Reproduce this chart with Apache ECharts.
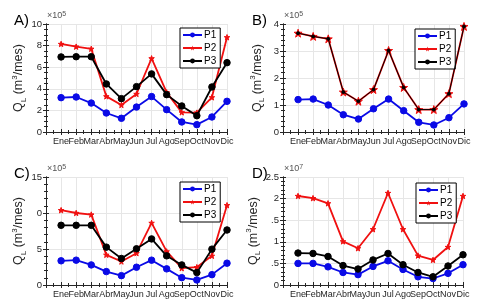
<!DOCTYPE html>
<html><head><meta charset="utf-8">
<script src="https://cdn.jsdelivr.net/npm/echarts@6/dist/echarts.min.js"></script>
<style>html,body{margin:0;padding:0;background:#fff}#c{width:484px;height:307px}</style>
</head><body><div id="c"></div>
<script>
const months = ['Ene','Feb','Mar','Abr','May','Jun','Jul','Ago','Sep','Oct','Nov','Dic'];
const seriesNames = ['P1','P2','P3'];
const panelLabels = ['A)','B)','C)','D)'];
const exponents = ['5','5','5','7'];
// Panel A (x10^5)
const A_P1 = [3.18,3.24,2.68,1.76,1.27,2.31,3.28,2.07,0.93,0.68,1.39,2.84];
const A_P2 = [8.15,7.9,7.7,3.3,2.5,3.52,6.82,3.67,1.82,1.79,3.21,8.77];
const A_P3 = [6.95,6.97,6.97,4.45,3.09,4.2,5.38,3.46,2.41,1.51,4.17,6.42];
// Panel B (x10^5)
const B_P1 = [1.2,1.22,1.0,0.64,0.48,0.86,1.22,0.79,0.36,0.26,0.53,1.04];
const B_P2 = [3.66,3.54,3.45,1.48,1.14,1.57,3.02,1.65,0.83,0.83,1.42,3.91];
const B_P3 = [3.66,3.54,3.45,1.48,1.14,1.57,3.02,1.65,0.83,0.83,1.42,3.91];
// Panel C (x10^5)
const C_P1 = [3.36,3.45,2.79,1.86,1.3,2.47,3.45,2.24,1.02,0.7,1.44,3.03];
const C_P2 = [10.39,10.0,9.78,4.19,3.26,4.42,8.62,4.66,2.33,2.47,4.05,11.08];
const C_P3 = [8.29,8.29,8.29,5.26,3.68,5.03,6.4,4.05,2.79,1.72,4.98,7.64];
// Panel D (x10^7)
const D_P1 = [0.5,0.5,0.42,0.29,0.24,0.43,0.56,0.36,0.19,0.15,0.27,0.47];
const D_P2 = [2.06,2.01,1.89,1.01,0.85,1.29,2.13,1.29,0.68,0.58,0.88,2.06];
const D_P3 = [0.74,0.73,0.66,0.45,0.37,0.58,0.73,0.47,0.29,0.19,0.44,0.7];
// y axes
const A_ticks = {min:0,max:10,interval:2,labels:{0:'0',2:'2',4:'4',6:'6',8:'8',10:'10'}};
const B_ticks = {min:0,max:4,interval:1,labels:{0:'0',1:'1',2:'2',3:'3',4:'4'}};
const C_ticks = {min:0,max:15,interval:5,labels:{0:'0',5:'5',10:'0',15:'15'}};
const D_ticks = {min:0,max:2.5,interval:0.5,labels:{0:'0',0.5:'.5',1:'1',1.5:'.5',2:'2',2.5:'2.5'}};

const panelData = [[A_P1,A_P2,A_P3],[B_P1,B_P2,B_P3],[C_P1,C_P2,C_P3],[D_P1,D_P2,D_P3]];
const panelTicks = [A_ticks,B_ticks,C_ticks,D_ticks];

const FONT = 'Liberation Sans, Arial, sans-serif';
const AX = '#262626';
const grids = [
  {left:46, top:24, width:181, height:108},
  {left:283, top:24, width:181, height:108},
  {left:46, top:177, width:181, height:108},
  {left:283, top:177, width:180, height:108}
];
const legendPos = [[180,28],[415,29],[180,182],[416,183]];
const colors = ['#0a0ae6','#f01010','#000000'];
const star = 'path://M0,-10 L2.35,-3.24 9.51,-3.09 3.8,1.24 5.88,8.09 0,4 -5.88,8.09 -3.8,1.24 -9.51,-3.09 -2.35,-3.24 Z';

const xAxis=[], yAxis=[], series=[], legend=[], graphic=[];
grids.forEach((g,i)=>{
  const t = panelTicks[i];
  xAxis.push({gridIndex:i,type:'value',min:0,max:12,interval:1,
    axisLine:{lineStyle:{color:AX,width:1}},
    axisTick:{inside:true,length:3,lineStyle:{color:AX}},
    minorTick:{show:true,splitNumber:2,length:2,lineStyle:{color:AX}},
    splitLine:{show:true,lineStyle:{color:'#e6e6e6',width:1}},
    axisLabel:{fontFamily:FONT,fontSize:9,color:AX,margin:5,showMaxLabel:true,hideOverlap:false,
      formatter:v=> (v>=1&&v<=12)? months[v-1] : ''}});
  xAxis.push({gridIndex:i,type:'value',min:0,max:12,interval:1,position:'top',
    axisLine:{lineStyle:{color:AX,width:1}},
    axisTick:{inside:true,length:3,lineStyle:{color:AX}},
    minorTick:{show:true,splitNumber:2,length:2,lineStyle:{color:AX}},
    splitLine:{show:false},axisLabel:{show:false}});
  const ysub = (t.interval===2)?4:5;
  yAxis.push({gridIndex:i,type:'value',min:t.min,max:t.max,interval:t.interval,
    axisLine:{show:true,lineStyle:{color:AX,width:1}},
    axisTick:{show:true,inside:true,length:3,lineStyle:{color:AX}},
    minorTick:{show:true,splitNumber:ysub,length:2,lineStyle:{color:AX}},
    splitLine:{show:true,lineStyle:{color:'#e6e6e6',width:1}},
    axisLabel:{fontFamily:FONT,fontSize:9.5,color:AX,margin:4,
      formatter:v=>{const k=Math.round(v*100)/100; return t.labels[k]!==undefined?t.labels[k]:'';}},
    name:'{q|Q}{sub|L}{q| (m}{sup|3}{q|/mes)}',nameLocation:'middle',nameRotate:90,nameGap:17,
    nameTextStyle:{fontFamily:FONT,fontSize:12,color:AX,
      rich:{q:{fontFamily:FONT,fontSize:12.5,color:AX,lineHeight:17},
            sub:{fontFamily:FONT,fontSize:8,color:AX,lineHeight:8,verticalAlign:'bottom'},
            sup:{fontFamily:FONT,fontSize:8,color:AX,lineHeight:8,verticalAlign:'top'}}}});
  yAxis.push({gridIndex:i,type:'value',min:t.min,max:t.max,interval:t.interval,position:'right',
    axisLine:{show:true,lineStyle:{color:AX,width:1}},
    axisTick:{show:true,inside:true,length:3,lineStyle:{color:AX}},
    minorTick:{show:true,splitNumber:ysub,length:2,lineStyle:{color:AX}},
    splitLine:{show:false},axisLabel:{show:false}});
  const suffix = '\u200b'.repeat(i);
  panelData[i].forEach((vals,s)=>{
    const isB = (i===1);
    let symbol='circle', size=6.5, lw=1.8;
    if(s===1){symbol=star; size=isB?8:5.5;}
    if(s===2 && isB){symbol='circle'; size=3; lw=1;}
    series.push({name:seriesNames[s]+suffix,type:'line',xAxisIndex:2*i,yAxisIndex:2*i,
      data: vals.map((v,k)=>[k+1,v]),
      symbol:symbol,symbolSize:size,showSymbol:true,
      lineStyle:{color:colors[s],width:lw},
      itemStyle:{color:colors[s],borderColor:colors[s]},
      animation:false,z:2+s});
  });
  legend.push({left:legendPos[i][0],top:legendPos[i][1],orient:'vertical',
    data:seriesNames.map(n=>n+suffix),
    formatter:n=>n.replace(/\u200b/g,''),
    backgroundColor:'#fff',borderColor:'#000',borderWidth:1,borderRadius:0,
    padding:[1,4,1,2],itemGap:1,itemWidth:19,itemHeight:6,
    textStyle:{fontFamily:FONT,fontSize:10,color:'#000',lineHeight:12,padding:[0,0,0,-3]},
    selectedMode:false});
  graphic.push({type:'text',left:(i%2===0)?14:252,top:g.top-11,
    style:{text:panelLabels[i],fontFamily:FONT,fontSize:15,fill:'#000'}});
  graphic.push({type:'text',left:g.left+1,top:g.top-13,
    style:{text:'×10{s|'+exponents[i]+'}',fontFamily:FONT,fontSize:9,fill:'#555',
      rich:{s:{fontFamily:FONT,fontSize:7,fill:'#555',verticalAlign:'top',lineHeight:7}}}});
});

const chart = echarts.init(document.getElementById('c'),null,{renderer:'canvas'});
chart.setOption({animation:false,grid:grids,xAxis,yAxis,series,legend,graphic});
</script></body></html>
